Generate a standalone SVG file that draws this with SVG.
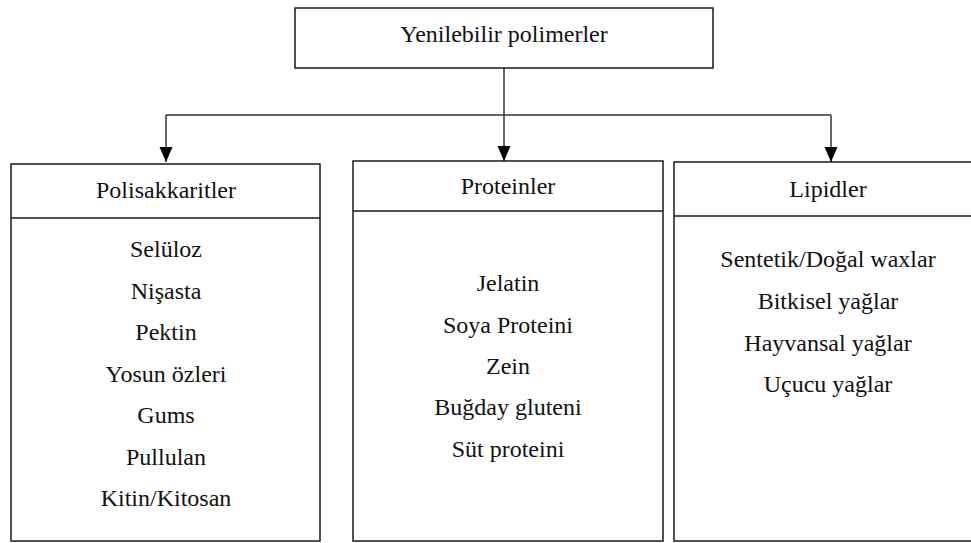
<svg xmlns="http://www.w3.org/2000/svg" width="971" height="543" viewBox="0 0 971 543">
<style>
.box{fill:#fff;stroke:#1a1a1a;stroke-width:1.5}
.div{stroke:#1a1a1a;stroke-width:1.5}
.t{font-family:"Liberation Serif","Times New Roman",serif;font-size:24px;fill:#111;text-anchor:middle}
.c{fill:none;stroke:#333;stroke-width:1.5}
</style>
<defs>
<marker id="ah" markerUnits="userSpaceOnUse" markerWidth="16" markerHeight="14" refX="15" refY="6.5" orient="auto">
<path d="M0,0 L15,6.5 L0,13 z" fill="#000"/>
</marker>
</defs>
<g id="root">
<rect class="box" x="295" y="8" width="418" height="60"/>
<text class="t" x="504" y="42">Yenilebilir polimerler</text>
</g>
<g id="connectors">
<line class="c" x1="166" y1="115" x2="831" y2="115"/>
<line class="c" x1="504" y1="68" x2="504" y2="161" marker-end="url(#ah)"/>
<line class="c" x1="166" y1="115" x2="166" y2="162" marker-end="url(#ah)"/>
<line class="c" x1="831" y1="115" x2="831" y2="162" marker-end="url(#ah)"/>
</g>
<g id="polisakkaritler">
<rect class="box" x="11" y="164" width="309" height="377"/>
<line class="div" x1="11" y1="218" x2="320" y2="218"/>
<text class="t" x="166" y="198">Polisakkaritler</text>
<text class="t" x="166" y="257">Selüloz</text>
<text class="t" x="166" y="299">Nişasta</text>
<text class="t" x="166" y="340">Pektin</text>
<text class="t" x="166" y="382">Yosun özleri</text>
<text class="t" x="166" y="423">Gums</text>
<text class="t" x="166" y="465">Pullulan</text>
<text class="t" x="166" y="506">Kitin/Kitosan</text>
</g>
<g id="proteinler">
<rect class="box" x="353" y="161" width="310" height="380"/>
<line class="div" x1="353" y1="211" x2="663" y2="211"/>
<text class="t" x="508" y="194">Proteinler</text>
<text class="t" x="508" y="291">Jelatin</text>
<text class="t" x="508" y="333">Soya Proteini</text>
<text class="t" x="508" y="374">Zein</text>
<text class="t" x="508" y="415">Buğday gluteni</text>
<text class="t" x="508" y="457">Süt proteini</text>
</g>
<g id="lipidler">
<rect class="box" x="674" y="162" width="310" height="379"/>
<line class="div" x1="674" y1="216" x2="984" y2="216"/>
<text class="t" x="828" y="197">Lipidler</text>
<text class="t" x="828" y="267">Sentetik/Doğal waxlar</text>
<text class="t" x="828" y="309">Bitkisel yağlar</text>
<text class="t" x="828" y="351">Hayvansal yağlar</text>
<text class="t" x="828" y="392">Uçucu yağlar</text>
</g>
</svg>
